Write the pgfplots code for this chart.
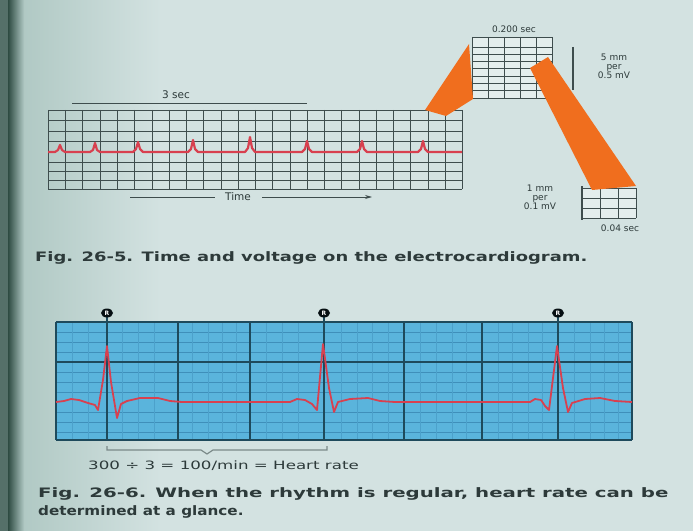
\documentclass[border=0pt]{standalone}
\usepackage{pgfplots}
\pgfplotsset{compat=1.18}
\usepackage{fontspec}
\setmainfont{DejaVu Sans}
\usetikzlibrary{arrows.meta}
\definecolor{pagebg}{HTML}{D3E2E1}
\definecolor{pageleft}{HTML}{AFC8C3}
\definecolor{binding}{HTML}{2E4B42}
\definecolor{gridc}{HTML}{3E4D4D}
\definecolor{ecgred}{HTML}{D8404F}
\definecolor{orangec}{HTML}{F06E1E}
\definecolor{boxblue}{HTML}{5AB4DC}
\definecolor{bluedark}{HTML}{1E4A5C}
\definecolor{bluethin}{HTML}{3F8FBA}
\definecolor{txt}{HTML}{2D3A3A}
\begin{document}
\begin{tikzpicture}
\begin{axis}[width=693bp,height=531bp,scale only axis,
  xmin=0,xmax=693,ymin=0,ymax=531,y dir=reverse,
  hide axis,clip=false,enlargelimits=false]
% page background
\fill[pagebg] (axis cs:0,0) rectangle (axis cs:693,531);
\shade[left color=pageleft,right color=pagebg] (axis cs:18,0) rectangle (axis cs:160,531);
\shade[left color=binding,right color=pageleft] (axis cs:8,0) rectangle (axis cs:24,531);
\fill[binding!70!pageleft] (axis cs:0,0) rectangle (axis cs:8,531);
% ---------- top strip grid ----------
\pgfplotsinvokeforeach{48,65,82,100,117,134,152,169,186,203,221,238,255,272,290,307,324,341,359,376,393,410,428,445,462}{
  \draw[gridc,line width=0.9bp] (axis cs:#1,110) -- (axis cs:#1,189);
}
\pgfplotsinvokeforeach{110,120,131,141,162,171,180,189}{
  \draw[gridc,line width=0.7bp] (axis cs:48,#1) -- (axis cs:462,#1);
}
\draw[gridc,line width=0.8bp] (axis cs:72,103) -- (axis cs:307,103);
\node[txt,font=\fontsize{10.5bp}{12bp}\selectfont,anchor=base] at (axis cs:176,98) {3 sec};
\draw[gridc,line width=0.8bp] (axis cs:130,197) -- (axis cs:215,197);
\draw[gridc,line width=0.8bp,-{Stealth[length=7bp,width=4bp]}] (axis cs:262,197) -- (axis cs:372,197);
\node[txt,font=\fontsize{10.5bp}{12bp}\selectfont] at (axis cs:238,197) {Time};
% top ECG trace
\addplot[ecgred,line width=2.2bp,line join=round] coordinates {
(48,152)(55,152)(58,150)(60,145)(62,150)(65,152)
(90,152)(93,150)(95,143)(97,150)(100,152)
(133,152)(136,149)(138,142)(140,149)(143,152)
(188,152)(191,149)(193,140)(195,149)(198,152)
(245,152)(248,148)(250,137)(252,148)(255,152)
(302,152)(305,149)(307,141)(309,149)(312,152)
(357,152)(360,149)(362,141)(364,149)(367,152)
(418,152)(421,149)(423,141)(425,149)(428,152)(462,152)};
% ---------- top inset box ----------
\fill[pagebg!60!white] (axis cs:472,37) rectangle (axis cs:552,98);
\pgfplotsinvokeforeach{472,488,504,520,536,552}{
  \draw[gridc,line width=1bp] (axis cs:#1,37) -- (axis cs:#1,98);
}
\pgfplotsinvokeforeach{37,47,54,61,68,76,83,90,98}{
  \draw[gridc,line width=0.8bp] (axis cs:472,#1) -- (axis cs:552,#1);
}
\node[txt,font=\fontsize{9bp}{10bp}\selectfont] at (axis cs:514,29) {0.200 sec};
\draw[gridc,line width=1.4bp] (axis cs:573,47) -- (axis cs:573,90);
\node[txt,font=\fontsize{9bp}{10bp}\selectfont,align=center] at (axis cs:614,66) {5 mm\\[-1bp]per\\[-1bp]0.5 mV};
% ---------- bottom inset box ----------
\fill[pagebg!60!white] (axis cs:582,188) rectangle (axis cs:636,218);
\pgfplotsinvokeforeach{582,600,618,636}{
  \draw[gridc,line width=0.8bp] (axis cs:#1,188) -- (axis cs:#1,218);
}
\pgfplotsinvokeforeach{188,198,208,218}{
  \draw[gridc,line width=0.7bp] (axis cs:582,#1) -- (axis cs:636,#1);
}
\draw[gridc,line width=1.4bp] (axis cs:582,186) -- (axis cs:582,220);
\node[txt,font=\fontsize{9bp}{10bp}\selectfont,align=center] at (axis cs:540,197) {1 mm\\[-1bp]per\\[-1bp]0.1 mV};
\node[txt,font=\fontsize{9bp}{10bp}\selectfont] at (axis cs:620,228) {0.04 sec};
% ---------- orange funnels ----------
\fill[orangec] (axis cs:425,110) -- (axis cs:469,44) -- (axis cs:473,99) -- (axis cs:446,116) -- cycle;
\fill[orangec] (axis cs:530,68) -- (axis cs:548,57) -- (axis cs:636,186) -- (axis cs:592,190) -- cycle;
% ---------- caption 1 ----------
\node[txt,anchor=west,inner sep=0pt,font=\fontsize{13bp}{15bp}\selectfont\bfseries] at (axis cs:35,258) {\scalebox{1.38}[1]{Fig. 26-5. Time and voltage on the electrocardiogram.}};
% ---------- bottom ECG box ----------
\fill[boxblue] (axis cs:56,322) rectangle (axis cs:632,440);
\pgfplotsinvokeforeach{332,342,352,372,382,392,412,422,432}{
  \draw[bluethin,line width=0.5bp] (axis cs:56,#1) -- (axis cs:632,#1);
}
\pgfplotsinvokeforeach{72,88,122,138,154,192,208,222,236,266,282,298,341,357,372,388,420,436,452,466,498,512,528,542,574,590,604,618}{
  \draw[bluethin!50!boxblue,line width=0.4bp] (axis cs:#1,322) -- (axis cs:#1,440);
}
\pgfplotsinvokeforeach{322,362,440}{
  \draw[bluedark,line width=1.3bp] (axis cs:56,#1) -- (axis cs:632,#1);
}
\pgfplotsinvokeforeach{56,178,250,404,482,632}{
  \draw[bluedark,line width=1.4bp] (axis cs:#1,322) -- (axis cs:#1,440);
}
\pgfplotsinvokeforeach{107,324,558}{
  \draw[bluedark,line width=1.4bp] (axis cs:#1,313) -- (axis cs:#1,440);
  \fill[black!80!bluedark] (axis cs:#1,313) ellipse [x radius=6bp,y radius=4.5bp];
  \node[white,font=\fontsize{6bp}{6bp}\selectfont\bfseries] at (axis cs:#1,313) {R};
}
\addplot[ecgred,line width=1.8bp,line join=round] coordinates {
(56,402)(64,401)(71,399)(79,400)(88,403)(95,405)(98,410)(103,380)(107,346)(111,382)(117,418)(121,404)(127,401)(140,398)(158,398)(170,401)(182,402)
(290,402)(297,399)(305,400)(312,404)(317,410)(323,344)(329,388)(334,412)(338,402)(350,399)(368,398)(380,401)(395,402)
(530,402)(535,399)(541,400)(545,406)(549,410)(557,346)(563,388)(568,412)(572,403)(585,399)(600,398)(615,401)(632,402)};
% bracket and formula
\draw[gridc!60!pagebg,line width=1.2bp] (axis cs:107,446) -- (axis cs:107,450) -- (axis cs:201,450) -- (axis cs:207,454) -- (axis cs:213,450) -- (axis cs:327,450) -- (axis cs:327,446);
\node[txt,anchor=west,inner sep=0pt,font=\fontsize{11.5bp}{13bp}\selectfont] at (axis cs:88,466) {\scalebox{1.45}[1]{300 ÷ 3 = 100/min = Heart rate}};
% ---------- caption 2 ----------
\node[txt,anchor=west,inner sep=0pt,font=\fontsize{13bp}{15bp}\selectfont\bfseries] at (axis cs:38,494) {\scalebox{1.52}[1]{Fig. 26-6. When the rhythm is regular, heart rate can be}};
\node[txt,anchor=west,inner sep=0pt,font=\fontsize{13bp}{15bp}\selectfont\bfseries] at (axis cs:38,512) {\scalebox{1.17}[1]{determined at a glance.}};
\end{axis}
\end{tikzpicture}
\end{document}
